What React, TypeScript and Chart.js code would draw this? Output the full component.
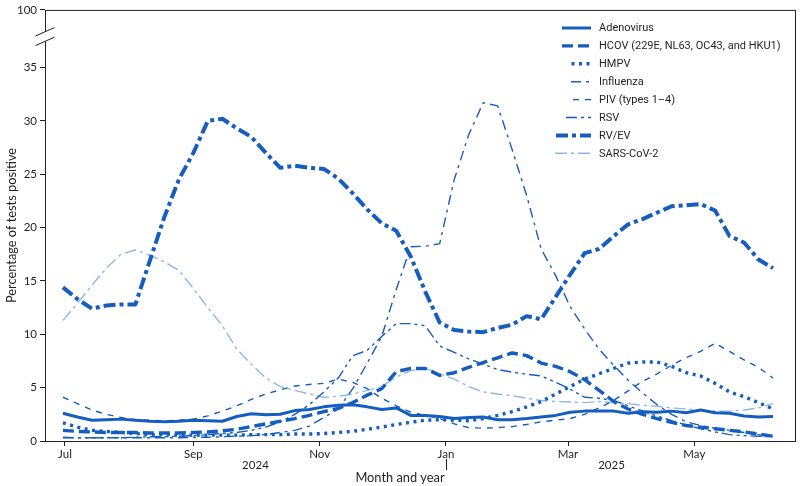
import { useEffect, useRef } from 'react';
import { Chart, registerables } from 'chart.js';

Chart.register(...registerables);

const FONT = 'Lato, "Open Sans", sans-serif';
const LEGEND_FONT = 'Roboto, Lato, sans-serif';
const INK = '#231f20';
const BLUE = '#155dbf';
const LIGHT_BLUE = '#8fb8e6';

// Weekly observations, as days since 1 July 2024 (first week ends 30 June 2024).
const WEEKS = 50;
const weekDay = Array.from({ length: WEEKS }, (_, i) => i * 7 - 1);

const monthTickDays = [0, 62, 123, 184, 243, 304];
const monthTickLabels = ['Jul', 'Sep', 'Nov', 'Jan', 'Mar', 'May'];
const yearLabels = ['2024', '2025'];
const yearLabelDays = [92, 264];
const yearDividerDay = 184;
const xTitle = 'Month and year';
const yTitle = 'Percentage of tests positive';

// Broken y-axis: regular ticks up to 35, then a jump to 100 at the top edge.
const yTickValues = [0, 5, 10, 15, 20, 25, 30, 35];
const yTopValue = 40.4;
const yTickLabels = ['0', '5', '10', '15', '20', '25', '30', '35', '100'];

const seriesNames = [
  'Adenovirus',
  'HCOV (229E, NL63, OC43, and HKU1)',
  'HMPV',
  'Influenza',
  'PIV (types 1–4)',
  'RSV',
  'RV/EV',
  'SARS-CoV-2',
];

const adenovirus = [
  2.6, 2.25, 1.95, 2.0, 2.05, 1.95, 1.85, 1.8, 1.85, 1.95,
  1.9, 1.85, 2.3, 2.55, 2.45, 2.5, 2.85, 2.95, 3.2, 3.35,
  3.4, 3.2, 2.95, 3.1, 2.4, 2.4, 2.3, 2.1, 2.2, 2.25,
  2.0, 2.0, 2.1, 2.25, 2.4, 2.7, 2.8, 2.8, 2.8, 2.6,
  2.75, 2.7, 2.8, 2.65, 2.9, 2.65, 2.6, 2.35, 2.25, 2.3,
];
const hcov = [
  1.0, 0.9, 0.85, 0.8, 0.8, 0.8, 0.75, 0.75, 0.75, 0.8,
  0.85, 0.95, 1.1, 1.35, 1.6, 1.85, 2.1, 2.4, 2.75, 3.05,
  3.6, 4.3, 4.9, 6.5, 6.8, 6.8, 6.15, 6.4, 6.9, 7.35,
  7.8, 8.25, 8.0, 7.3, 7.0, 6.5, 5.75, 4.75, 3.7, 3.0,
  2.5, 2.1, 1.75, 1.45, 1.3, 1.15, 1.0, 0.85, 0.65, 0.45,
];
const hmpv = [
  1.7, 1.3, 1.0, 0.9, 0.8, 0.7, 0.6, 0.6, 0.55, 0.55,
  0.55, 0.55, 0.55, 0.6, 0.6, 0.6, 0.65, 0.65, 0.7, 0.8,
  0.9, 1.1, 1.3, 1.55, 1.75, 1.95, 2.0, 1.95, 1.9, 2.1,
  2.4, 2.75, 3.2, 3.7, 4.4, 5.1, 5.8, 6.3, 6.8, 7.3,
  7.4, 7.4, 7.0, 6.4, 6.1, 5.4, 4.6, 4.15, 3.6, 3.0,
];
const influenza = [
  0.35, 0.3, 0.3, 0.3, 0.3, 0.3, 0.3, 0.3, 0.3, 0.35,
  0.35, 0.4, 0.45, 0.5, 0.6, 0.8, 1.0, 1.4, 2.2, 3.0,
  4.9, 7.3, 9.8, 14.2, 18.2, 18.25, 18.5, 24.5, 28.7, 31.7,
  31.4, 27.3, 23.0, 18.0, 15.5, 12.6, 10.5, 8.6, 7.1, 5.7,
  4.5, 3.4, 2.5, 1.8, 1.45, 1.2, 1.0, 0.8, 0.6, 0.45,
];
const piv = [
  4.1, 3.5, 2.9, 2.5, 2.2, 2.0, 1.95, 1.9, 1.95, 2.05,
  2.35, 2.8, 3.3, 3.9, 4.4, 4.8, 5.15, 5.3, 5.4, 5.8,
  5.5, 4.9, 4.0, 3.3, 2.7, 2.4, 2.1, 1.6, 1.25, 1.2,
  1.25, 1.35, 1.55, 1.8, 1.95, 2.1, 2.5, 3.1, 3.8, 4.7,
  5.6, 6.3, 7.1, 7.8, 8.4, 9.15, 8.4, 7.6, 6.9, 5.9,
];
const rsv = [
  0.3, 0.3, 0.3, 0.3, 0.3, 0.35, 0.4, 0.4, 0.45, 0.5,
  0.6, 0.7, 0.8, 1.0, 1.3, 1.8, 2.5, 3.4, 4.6, 5.9,
  8.0, 8.5, 9.8, 11.0, 11.0, 10.8, 8.9, 8.3, 7.7, 7.2,
  6.7, 6.45, 6.25, 6.1, 5.5, 4.85, 4.1, 4.0, 3.8, 3.3,
  2.8, 2.35, 1.9, 1.5, 1.15, 0.85, 0.6, 0.5, 0.45, 0.4,
];
const rvev = [
  14.4, 13.3, 12.4, 12.7, 12.8, 12.8, 16.9, 21.0, 24.5, 27.0,
  30.0, 30.2, 29.3, 28.5, 27.0, 25.6, 25.8, 25.6, 25.5, 24.6,
  23.2, 21.7, 20.4, 19.7, 17.3, 14.0, 11.1, 10.4, 10.25, 10.2,
  10.6, 10.9, 11.7, 11.4, 13.5, 15.6, 17.6, 18.0, 19.2, 20.3,
  20.8, 21.4, 22.0, 22.1, 22.2, 21.6, 19.2, 18.6, 17.0, 16.2,
];
const sarsCov2 = [
  11.3, 12.9, 14.6, 16.2, 17.5, 17.9, 17.4, 16.8, 16.0, 14.3,
  12.5, 10.8, 8.6, 7.2, 5.9, 5.1, 4.75, 4.4, 4.1, 4.2,
  4.4, 4.75, 5.1, 6.0, 6.6, 6.8, 6.3, 5.8, 5.1, 4.6,
  4.4, 4.25, 4.0, 3.8, 3.7, 3.65, 3.6, 3.7, 3.6, 3.5,
  3.35, 3.25, 3.1, 3.0, 2.9, 2.8, 2.8, 2.9, 3.1, 3.5,
];

const seriesValues = [adenovirus, hcov, hmpv, influenza, piv, rsv, rvev, sarsCov2];

// Line styles; keyLength is how much of the pattern the legend key shows.
const seriesStyles = [
  { color: BLUE, width: 3, dash: [] as number[], keyLength: 29 },
  { color: BLUE, width: 3.4, dash: [11, 5], keyLength: 29 },
  { color: BLUE, width: 3.4, dash: [3, 4.5], keyLength: 19.5 },
  { color: BLUE, width: 1.4, dash: [10, 5, 3, 5], keyLength: 20 },
  { color: BLUE, width: 1.4, dash: [6, 6], keyLength: 18 },
  { color: BLUE, width: 1.4, dash: [11, 4, 3, 4, 3, 4], keyLength: 25 },
  { color: BLUE, width: 4, dash: [12, 4, 4, 4], keyLength: 35 },
  { color: LIGHT_BLUE, width: 1.4, dash: [12, 4, 3, 4], keyLength: 36 },
];

// Frame, axis break, year row, axis title and the line-style legend.
const decorations = {
  id: 'decorations',
  afterDraw(chart: any) {
    const { ctx, chartArea: a, scales } = chart;
    const x = scales.x;
    const y = scales.y;
    ctx.save();

    // box around the plot
    ctx.strokeStyle = INK;
    ctx.lineWidth = 1;
    ctx.setLineDash([]);
    ctx.strokeRect(a.left + 0.5, a.top + 0.5, a.right - a.left - 1, a.bottom - a.top);

    // axis break marks between 35 and 100
    const b1 = y.getPixelForValue(38.35);
    const b2 = y.getPixelForValue(37.45);
    const dx = 9.5;
    const dy = 4.2;
    ctx.fillStyle = '#ffffff';
    ctx.beginPath();
    ctx.moveTo(a.left - dx, b1 + dy);
    ctx.lineTo(a.left + dx, b1 - dy);
    ctx.lineTo(a.left + dx, b2 - dy);
    ctx.lineTo(a.left - dx, b2 + dy);
    ctx.closePath();
    ctx.fill();
    ctx.beginPath();
    ctx.moveTo(a.left - dx, b1 + dy);
    ctx.lineTo(a.left + dx, b1 - dy);
    ctx.moveTo(a.left - dx, b2 + dy);
    ctx.lineTo(a.left + dx, b2 - dy);
    ctx.stroke();

    // year row under the month labels, with the divider at the turn of the year
    ctx.fillStyle = INK;
    ctx.font = `11.5px ${FONT}`;
    ctx.textAlign = 'center';
    ctx.textBaseline = 'middle';
    const yearY = a.bottom + 24;
    yearLabels.forEach((t, i) => ctx.fillText(t, x.getPixelForValue(yearLabelDays[i]), yearY));
    const dividerX = Math.round(x.getPixelForValue(yearDividerDay)) + 0.5;
    ctx.beginPath();
    ctx.moveTo(dividerX, a.bottom + 18);
    ctx.lineTo(dividerX, a.bottom + 29);
    ctx.stroke();

    // x-axis title, centred on the figure
    ctx.font = `12.8px ${FONT}`;
    ctx.fillText(xTitle, chart.width / 2, a.bottom + 37);

    // legend
    const lineRight = 591;
    const textX = 599;
    const rowTop = 28;
    const rowStep = 17.9;
    ctx.textAlign = 'left';
    ctx.font = `11px ${LEGEND_FONT}`;
    chart.data.datasets.forEach((ds: any, k: number) => {
      const ry = rowTop + k * rowStep;
      ctx.strokeStyle = ds.borderColor;
      ctx.lineWidth = ds.borderWidth;
      ctx.setLineDash(ds.borderDash || []);
      ctx.beginPath();
      ctx.moveTo(lineRight - seriesStyles[k].keyLength, ry);
      ctx.lineTo(lineRight, ry);
      ctx.stroke();
      ctx.setLineDash([]);
      ctx.fillStyle = INK;
      ctx.fillText(ds.label, textX, ry + 0.5);
    });

    ctx.restore();
  },
};

export default function App() {
  const canvasRef = useRef<HTMLCanvasElement | null>(null);

  useEffect(() => {
    const canvas = canvasRef.current;
    if (!canvas) return;

    const chart = new Chart(canvas, {
      type: 'line',
      data: {
        datasets: seriesNames.map((name, k) => ({
          label: name,
          data: seriesValues[k].map((v, i) => ({ x: weekDay[i], y: v })),
          borderColor: seriesStyles[k].color,
          borderWidth: seriesStyles[k].width,
          borderDash: seriesStyles[k].dash,
          borderCapStyle: 'butt' as const,
          borderJoinStyle: 'round' as const,
          pointRadius: 0,
          tension: 0,
          fill: false,
        })),
      },
      options: {
        responsive: false,
        animation: false,
        devicePixelRatio: 1,
        layout: { padding: { top: 7, right: 4, left: 0, bottom: 0 } },
        plugins: {
          legend: { display: false },
          tooltip: { enabled: false },
        },
        scales: {
          x: {
            type: 'linear',
            min: -9.66,
            max: 353.1,
            afterBuildTicks: (s: any) => {
              s.ticks = monthTickDays.map((v) => ({ value: v }));
            },
            afterFit: (s: any) => {
              s.height = 45;
            },
            ticks: {
              autoSkip: false,
              maxRotation: 0,
              padding: 1,
              color: INK,
              font: { family: FONT, size: 11.5 },
              callback: (v: any) => {
                const i = monthTickDays.indexOf(Number(v));
                return i >= 0 ? monthTickLabels[i] : '';
              },
            },
            grid: { drawOnChartArea: false, drawTicks: true, tickLength: 5, color: INK },
            border: { display: false },
            title: { display: false },
          },
          y: {
            type: 'linear',
            min: 0,
            max: yTopValue,
            afterBuildTicks: (s: any) => {
              s.ticks = [...yTickValues, yTopValue].map((v) => ({ value: v }));
            },
            afterFit: (s: any) => {
              s.width = 45;
            },
            ticks: {
              autoSkip: false,
              padding: 3,
              color: INK,
              font: { family: FONT, size: 11.5 },
              callback: (_v: any, i: number) => yTickLabels[i],
            },
            grid: { drawOnChartArea: false, drawTicks: true, tickLength: 5, color: INK },
            border: { display: false },
            title: {
              display: true,
              text: yTitle,
              color: INK,
              font: { family: FONT, size: 12.8 },
              padding: { top: 4, bottom: 0 },
            },
          },
        },
      },
      plugins: [decorations],
    });

    return () => chart.destroy();
  }, []);

  return (
    <canvas
      ref={canvasRef}
      width={800}
      height={486}
      style={{ position: 'absolute', left: 0, top: 0, width: 800, height: 486 }}
    />
  );
}
